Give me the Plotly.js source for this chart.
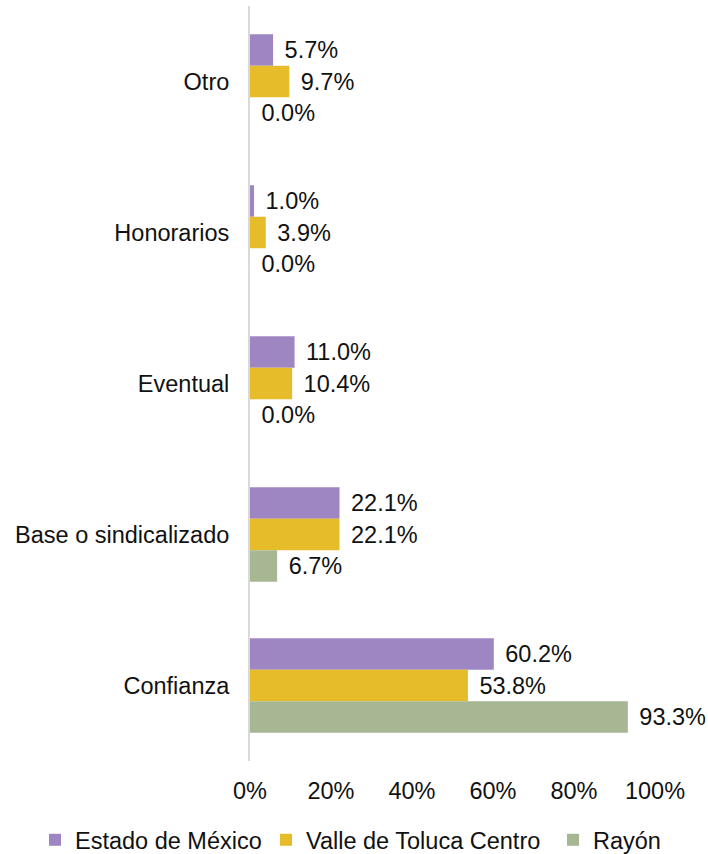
<!DOCTYPE html>
<html>
<head>
<meta charset="utf-8">
<script src="https://cdn.plot.ly/plotly-3.0.1.min.js"></script>
<style>html,body{margin:0;padding:0;background:#fff;}#chart{width:708px;height:854px;}</style>
</head>
<body>
<div id="chart"></div>
<script>
const categories = ["Otro", "Honorarios", "Eventual", "Base o sindicalizado", "Confianza"];
const seriesNames = ["Estado de México", "Valle de Toluca Centro", "Rayón"];
const estadoMexico = [5.7, 1.0, 11.0, 22.1, 60.2];
const valleToluca = [9.7, 3.9, 10.4, 22.1, 53.8];
const rayon = [0.0, 0.0, 0.0, 6.7, 93.3];
const xTicks = [0, 20, 40, 60, 80, 100];

const colors = ["#9E86C3", "#E6BC2A", "#A7B793"];
const seriesValues = [estadoMexico, valleToluca, rayon];
const legendIds = ["legend", "legend2", "legend3"];
const legendX = [35 / 708, 266 / 708, 553 / 708];
const fontFamily = '"Liberation Sans", Arial, sans-serif';
const fs = 23.5;

const traces = seriesValues.map((vals, i) => ({
  type: "bar",
  orientation: "h",
  name: seriesNames[i],
  legend: legendIds[i],
  x: vals,
  y: categories,
  marker: { color: colors[i] },
  text: vals.map(v => "\u00a0\u200a" + v.toFixed(1) + "%"),
  texttemplate: "%{text}",
  textposition: "outside",
  textfont: { family: fontFamily, size: fs, color: "#111" },
  cliponaxis: false,
  hoverinfo: "skip"
}));

const layout = {
  width: 708,
  height: 854,
  margin: { l: 250, r: 53, t: 6, b: 93, autoexpand: false },
  paper_bgcolor: "#fff",
  plot_bgcolor: "#fff",
  font: { family: fontFamily, size: fs, color: "#111" },
  barmode: "group",
  bargap: 0.374,
  bargroupgap: 0,
  showlegend: true,
  xaxis: {
    range: [0, 100],
    tickvals: xTicks,
    ticktext: xTicks.map(v => v + "%"),
    showgrid: false,
    zeroline: false,
    showline: false,
    ticks: "outside",
    ticklen: 9,
    tickcolor: "rgba(0,0,0,0)",
    tickfont: { family: fontFamily, size: fs, color: "#111" },
    automargin: false,
    fixedrange: true
  },
  yaxis: {
    type: "category",
    categoryorder: "array",
    categoryarray: categories,
    autorange: "reversed",
    showgrid: false,
    zeroline: false,
    showline: true,
    linecolor: "#D9D9D9",
    linewidth: 2,
    ticks: "outside",
    ticklen: 14,
    tickcolor: "rgba(0,0,0,0)",
    tickfont: { family: fontFamily, size: fs, color: "#111" },
    automargin: false,
    fixedrange: true
  }
};

legendIds.forEach((id, i) => {
  layout[id] = {
    orientation: "h",
    xref: "container",
    yref: "container",
    x: legendX[i],
    xanchor: "left",
    y: 1 - 840 / 854,
    yanchor: "middle",
    font: { family: fontFamily, size: fs, color: "#111" },
    itemwidth: 30,
    borderwidth: 0,
    bgcolor: "rgba(0,0,0,0)"
  };
});

Plotly.newPlot("chart", traces, layout, { displayModeBar: false, staticPlot: true });
</script>
</body>
</html>
